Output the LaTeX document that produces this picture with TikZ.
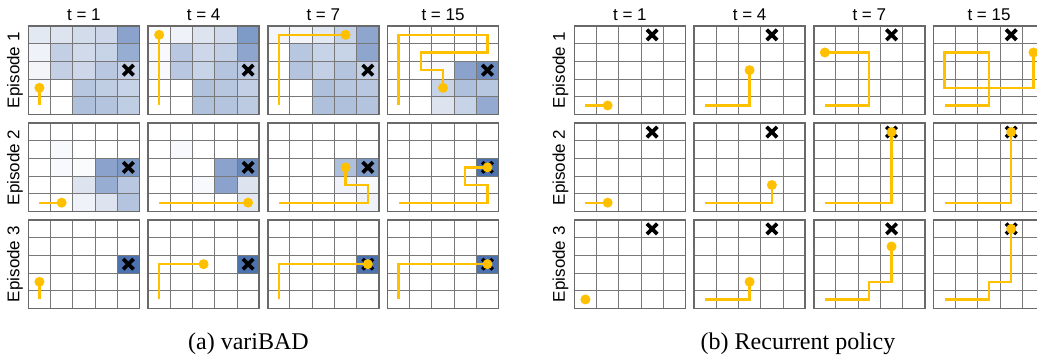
\documentclass[tikz,border=0pt]{standalone}
\usepackage{fontspec}
\setmainfont{Liberation Serif}
\newfontfamily\labfont{Liberation Sans}
\definecolor{bl}{RGB}{76,114,176}
\definecolor{agc}{RGB}{255,192,0}
\definecolor{gline}{RGB}{120,120,120}
\definecolor{gbord}{RGB}{105,105,105}
\tikzset{
  gridline/.style={draw=gline, line width=0.9pt},
  gridborder/.style={draw=gbord, line width=1.6pt},
  agpath/.style={draw=agc, line width=2.3pt},
  agdot/.style={fill=agc},
  xstroke/.style={draw=black, line width=3.7pt},
  ttl/.style={font=\labfont\fontsize{17}{19}\selectfont, inner sep=0pt},
  eplabel/.style={font=\labfont\fontsize{17}{19}\selectfont, rotate=90, inner sep=0pt},
  capt/.style={font=\fontsize{24}{28}\selectfont, inner sep=0pt, anchor=base},
  cellgrid/.style={shift={(#1)}, x=22.24pt, y=17.66pt},
}
\newcommand\srow[2]{\foreach \p [count=\ci from 0] in {#2} {\fill[bl!\p] (\ci,#1) rectangle ++(1,1);}}
\newcommand\gridlines{%
  \foreach \i in {1,2,3,4}{\draw[gridline] (\i,0) -- (\i,5); \draw[gridline] (0,\i) -- (5,\i);}
  \draw[gridborder] (0,0) rectangle (5,5);}
\newcommand\xmk[2]{%
  \draw[xstroke] ([shift={(-5.2pt,-5.2pt)}]#1,#2) -- ([shift={(5.2pt,5.2pt)}]#1,#2);
  \draw[xstroke] ([shift={(-5.2pt,5.2pt)}]#1,#2) -- ([shift={(5.2pt,-5.2pt)}]#1,#2);}
\newcommand\adot[2]{\fill[agdot] (#1,#2) circle[radius=5pt];}
\begin{document}
\begin{tikzpicture}[x=1pt,y=-1pt]
\useasboundingbox (0,0) rectangle (1037,356);
\clip (0,0) rectangle (1037,356);
\fill[white] (0,0) rectangle (1037,356);

% ---------- titles ----------
\foreach \xx/\tt [count=\k] in {28.3/1,148.0/4,267.7/7,387.4/15}{
  \node[ttl] (ta\k) at (\xx+55.6,14.5) {t = \tt};}
\foreach \xx/\tt [count=\k] in {574.3/1,694.0/4,813.7/7,933.4/15}{
  \node[ttl] (tb\k) at (\xx+55.6,14.5) {t = \tt};}
\foreach \yy [count=\k] in {70.2,167.4,264.2}{
  \node[eplabel] (ea\k) at (15,\yy) {Episode \k};
  \node[eplabel] (eb\k) at (560.5,\yy) {Episode \k};}

% ================= panel (a) variBAD =================
% Episode 1
\begin{scope}[cellgrid={28.3,114.3}]
  \srow{4}{16,19,25,28,65}\srow{3}{9,34,26,31,58}\srow{2}{7,34,28,39,34}\srow{1}{4,0,40,35,31}\srow{0}{0,0,45,42,35}
  \gridlines \xmk{4.5}{2.5}
  \draw[agpath] (0.5,0.5) -- (0.5,1.5); \adot{0.5}{1.5}
\end{scope}
\begin{scope}[cellgrid={148.0,114.3}]
  \srow{4}{3,9,19,26,72}\srow{3}{4,39,28,34,63}\srow{2}{4,39,31,42,39}\srow{1}{0,0,44,40,34}\srow{0}{0,0,44,42,37}
  \gridlines \xmk{4.5}{2.5}
  \draw[agpath] (0.5,0.5) -- (0.5,4.5); \adot{0.5}{4.5}
\end{scope}
\begin{scope}[cellgrid={267.7,114.3}]
  \srow{4}{7,7,16,31,63}\srow{3}{0,40,31,31,63}\srow{2}{0,42,34,42,34}\srow{1}{0,0,45,40,39}\srow{0}{0,0,45,45,42}
  \gridlines \xmk{4.5}{2.5}
  \draw[agpath] (0.5,0.5) -- (0.5,4.5) -- (3.5,4.5); \adot{3.5}{4.5}
\end{scope}
\begin{scope}[cellgrid={387.4,114.3}]
  \srow{2}{0,0,4,65,80}\srow{1}{0,0,31,45,40}\srow{0}{0,0,19,31,60}
  \gridlines \xmk{4.5}{2.5}
  \draw[agpath] (0.5,0.5) -- (0.5,4.5) -- (4.5,4.5) -- (4.5,3.5) -- (1.5,3.5) -- (1.5,2.5) -- (2.5,2.5) -- (2.5,1.5); \adot{2.5}{1.5}
\end{scope}
% Episode 2
\begin{scope}[cellgrid={28.3,211.5}]
  \srow{3}{0,4,0,0,0}\srow{2}{0,4,3,65,72}\srow{1}{0,0,19,58,39}\srow{0}{0,0,9,19,42}
  \gridlines \xmk{4.5}{2.5}
  \draw[agpath] (0.5,0.5) -- (1.5,0.5); \adot{1.5}{0.5}
\end{scope}
\begin{scope}[cellgrid={148.0,211.5}]
  \srow{3}{0,4,0,0,0}\srow{2}{0,0,0,65,83}\srow{1}{0,0,4,65,19}\srow{0}{0,0,0,0,16}
  \gridlines \xmk{4.5}{2.5}
  \draw[agpath] (0.5,0.5) -- (4.5,0.5); \adot{4.5}{0.5}
\end{scope}
\begin{scope}[cellgrid={267.7,211.5}]
  \srow{2}{0,0,0,45,72}\srow{1}{0,0,0,9,4}\srow{0}{0,0,0,0,9}
  \gridlines \xmk{4.5}{2.5}
  \draw[agpath] (0.5,0.5) -- (4.5,0.5) -- (4.5,1.5) -- (3.5,1.5) -- (3.5,2.5); \adot{3.5}{2.5}
\end{scope}
\begin{scope}[cellgrid={387.4,211.5}]
  \srow{2}{0,0,0,0,100}
  \gridlines \xmk{4.5}{2.5}
  \draw[agpath] (0.5,0.5) -- (4.5,0.5) -- (4.5,1.5) -- (3.5,1.5) -- (3.5,2.5) -- (4.5,2.5); \adot{4.5}{2.5}
\end{scope}
% Episode 3
\begin{scope}[cellgrid={28.3,308.3}]
  \srow{2}{0,0,0,0,100}
  \gridlines \xmk{4.5}{2.5}
  \draw[agpath] (0.5,0.5) -- (0.5,1.5); \adot{0.5}{1.5}
\end{scope}
\begin{scope}[cellgrid={148.0,308.3}]
  \srow{2}{0,0,0,0,100}
  \gridlines \xmk{4.5}{2.5}
  \draw[agpath] (0.5,0.5) -- (0.5,2.5) -- (2.5,2.5); \adot{2.5}{2.5}
\end{scope}
\begin{scope}[cellgrid={267.7,308.3}]
  \srow{2}{0,0,0,0,100}
  \gridlines \xmk{4.5}{2.5}
  \draw[agpath] (0.5,0.5) -- (0.5,2.5) -- (4.5,2.5); \adot{4.5}{2.5}
\end{scope}
\begin{scope}[cellgrid={387.4,308.3}]
  \srow{2}{0,0,0,0,100}
  \gridlines \xmk{4.5}{2.5}
  \draw[agpath] (0.5,0.5) -- (0.5,2.5) -- (4.5,2.5); \adot{4.5}{2.5}
\end{scope}

% ================= panel (b) recurrent =================
% Episode 1
\begin{scope}[cellgrid={574.3,114.3}]
  \gridlines \xmk{3.5}{4.5}
  \draw[agpath] (0.5,0.5) -- (1.5,0.5); \adot{1.5}{0.5}
\end{scope}
\begin{scope}[cellgrid={694.0,114.3}]
  \gridlines \xmk{3.5}{4.5}
  \draw[agpath] (0.5,0.5) -- (2.5,0.5) -- (2.5,2.5); \adot{2.5}{2.5}
\end{scope}
\begin{scope}[cellgrid={813.7,114.3}]
  \gridlines \xmk{3.5}{4.5}
  \draw[agpath] (0.5,0.5) -- (2.5,0.5) -- (2.5,3.5) -- (0.5,3.5); \adot{0.5}{3.5}
\end{scope}
\begin{scope}[cellgrid={933.4,114.3}]
  \gridlines \xmk{3.5}{4.5}
  \draw[agpath] (0.5,0.5) -- (2.5,0.5) -- (2.5,3.5) -- (0.5,3.5) -- (0.5,1.5) -- (4.5,1.5) -- (4.5,3.5); \adot{4.5}{3.5}
\end{scope}
% Episode 2
\begin{scope}[cellgrid={574.3,211.5}]
  \gridlines \xmk{3.5}{4.5}
  \draw[agpath] (0.5,0.5) -- (1.5,0.5); \adot{1.5}{0.5}
\end{scope}
\begin{scope}[cellgrid={694.0,211.5}]
  \gridlines \xmk{3.5}{4.5}
  \draw[agpath] (0.5,0.5) -- (3.5,0.5) -- (3.5,1.5); \adot{3.5}{1.5}
\end{scope}
\begin{scope}[cellgrid={813.7,211.5}]
  \gridlines \xmk{3.5}{4.5}
  \draw[agpath] (0.5,0.5) -- (3.5,0.5) -- (3.5,4.5); \adot{3.5}{4.5}
\end{scope}
\begin{scope}[cellgrid={933.4,211.5}]
  \gridlines \xmk{3.5}{4.5}
  \draw[agpath] (0.5,0.5) -- (3.5,0.5) -- (3.5,4.5); \adot{3.5}{4.5}
\end{scope}
% Episode 3
\begin{scope}[cellgrid={574.3,308.3}]
  \gridlines \xmk{3.5}{4.5}
  \adot{0.5}{0.5}
\end{scope}
\begin{scope}[cellgrid={694.0,308.3}]
  \gridlines \xmk{3.5}{4.5}
  \draw[agpath] (0.5,0.5) -- (2.5,0.5) -- (2.5,1.5); \adot{2.5}{1.5}
\end{scope}
\begin{scope}[cellgrid={813.7,308.3}]
  \gridlines \xmk{3.5}{4.5}
  \draw[agpath] (0.5,0.5) -- (2.5,0.5) -- (2.5,1.5) -- (3.5,1.5) -- (3.5,3.5); \adot{3.5}{3.5}
\end{scope}
\begin{scope}[cellgrid={933.4,308.3}]
  \gridlines \xmk{3.5}{4.5}
  \draw[agpath] (0.5,0.5) -- (2.5,0.5) -- (2.5,1.5) -- (3.5,1.5) -- (3.5,4.5); \adot{3.5}{4.5}
\end{scope}

% ---------- captions ----------
\node[capt] (capa) at (248.5,349) {(a) variBAD};
\node[capt] (capb) at (798,349) {(b) Recurrent policy};
\end{tikzpicture}
\end{document}
